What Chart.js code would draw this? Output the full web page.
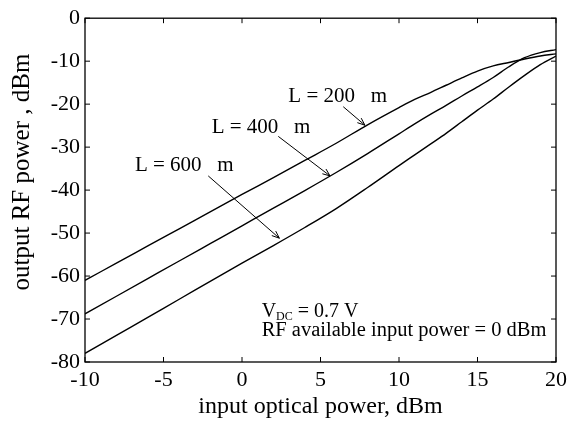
<!DOCTYPE html>
<html>
<head>
<meta charset="utf-8">
<script src="https://cdn.jsdelivr.net/npm/chart.js@4/dist/chart.umd.min.js"></script>
<style>
  html, body { margin: 0; padding: 0; background: #fff; }
  #wrap { width: 572px; height: 427px; }
</style>
</head>
<body>
<div id="wrap"><canvas id="c" width="572" height="427"></canvas></div>
<script>
// ---- data ----
const xValues = [-10, -8, -6, -4, -2, 0, 2, 4, 6, 8, 10, 11, 12, 13, 14, 15, 16, 17, 18, 19, 20];
const L200 = [-61.0, -57.0, -53.0, -49.0, -45.0, -41.0, -37.1, -33.1, -29.1, -24.8, -20.8, -18.9, -17.3, -15.6, -13.9, -12.3, -11.1, -10.3, -9.5, -8.8, -8.3];
const L400 = [-68.8, -64.7, -60.6, -56.5, -52.4, -48.3, -44.2, -40.1, -35.9, -31.5, -26.9, -24.6, -22.4, -20.3, -18.1, -16.0, -13.8, -11.3, -9.2, -8.0, -7.3];
const L600 = [-78.0, -73.8, -69.6, -65.4, -61.2, -57.0, -52.9, -48.7, -44.3, -39.4, -34.3, -31.8, -29.3, -26.8, -24.1, -21.4, -18.8, -16.0, -13.3, -10.8, -8.8];
const seriesNames = ['L = 200   m', 'L = 400   m', 'L = 600   m'];
const xTicks = [-10, -5, 0, 5, 10, 15, 20];
const yTicks = [-80, -70, -60, -50, -40, -30, -20, -10, 0];
const xTitle = 'input optical power, dBm';
const yTitle = 'output RF power , dBm';
// label anchor (data coords) and arrow start/end (data coords)
const labelPos = [[2.95, -19.5], [-1.93, -26.8], [-6.82, -35.6]];
const arrowFrom = [[6.45, -20.6], [2.31, -27.5], [-2.15, -36.7]];
const arrowTo = [[7.83, -24.9], [5.61, -36.7], [2.38, -51.2]];
const noteV = ['V', 'DC', ' = 0.7 V'];
const notePos = [1.25, -69.6];
const note2 = 'RF available input power = 0 dBm';
const note2Pos = [1.25, -74.0];
const yTitleCenter = -35.8;

const FONT = '"Liberation Serif", "Times New Roman", serif';

function toPts(ys) { return xValues.map((x, i) => ({ x: x, y: ys[i] })); }

const decor = {
  id: 'decor',
  afterDatasetsDraw(chart) {
    const { ctx, chartArea: a, scales } = chart;
    const xs = scales.x, ys = scales.y;
    ctx.save();
    ctx.strokeStyle = '#000';
    ctx.lineWidth = 1.3;
    ctx.strokeRect(a.left, a.top, a.right - a.left, a.bottom - a.top);
    const tl = 5;
    ctx.lineWidth = 1;
    ctx.beginPath();
    xTicks.forEach(v => {
      const px = xs.getPixelForValue(v);
      ctx.moveTo(px, a.bottom); ctx.lineTo(px, a.bottom - tl);
      ctx.moveTo(px, a.top); ctx.lineTo(px, a.top + tl);
    });
    yTicks.forEach(v => {
      const py = ys.getPixelForValue(v);
      ctx.moveTo(a.left, py); ctx.lineTo(a.left + tl, py);
      ctx.moveTo(a.right, py); ctx.lineTo(a.right - tl, py);
    });
    ctx.stroke();

    // arrows
    ctx.lineWidth = 1;
    arrowFrom.forEach((f, i) => {
      const x1 = xs.getPixelForValue(f[0]), y1 = ys.getPixelForValue(f[1]);
      const x2 = xs.getPixelForValue(arrowTo[i][0]), y2 = ys.getPixelForValue(arrowTo[i][1]);
      ctx.beginPath();
      ctx.moveTo(x1, y1); ctx.lineTo(x2, y2);
      const ang = Math.atan2(y2 - y1, x2 - x1);
      const h = 8, s = 0.38;
      ctx.moveTo(x2, y2); ctx.lineTo(x2 - h * Math.cos(ang - s), y2 - h * Math.sin(ang - s));
      ctx.moveTo(x2, y2); ctx.lineTo(x2 - h * Math.cos(ang + s), y2 - h * Math.sin(ang + s));
      ctx.stroke();
    });

    // labels
    ctx.fillStyle = '#000';
    ctx.textBaseline = 'alphabetic';
    ctx.textAlign = 'left';
    ctx.font = '21px ' + FONT;
    seriesNames.forEach((t, i) => {
      ctx.fillText(t, xs.getPixelForValue(labelPos[i][0]), ys.getPixelForValue(labelPos[i][1]));
    });

    // notes
    let nx = xs.getPixelForValue(notePos[0]);
    const ny = ys.getPixelForValue(notePos[1]);
    ctx.font = '20px ' + FONT;
    ctx.fillText(noteV[0], nx, ny);
    nx += ctx.measureText(noteV[0]).width;
    ctx.font = '12px ' + FONT;
    ctx.fillText(noteV[1], nx, ny + 3);
    nx += ctx.measureText(noteV[1]).width;
    ctx.font = '20px ' + FONT;
    ctx.fillText(noteV[2], nx, ny);
    ctx.font = '20.5px ' + FONT;
    ctx.fillText(note2, xs.getPixelForValue(note2Pos[0]), ys.getPixelForValue(note2Pos[1]));

    // y axis title
    ctx.save();
    ctx.translate(22, ys.getPixelForValue(yTitleCenter));
    ctx.rotate(-Math.PI / 2);
    ctx.textAlign = 'center';
    ctx.textBaseline = 'middle';
    ctx.font = '25px ' + FONT;
    ctx.fillText(yTitle, 0, 0);
    ctx.restore();
    ctx.restore();
  }
};

new Chart(document.getElementById('c'), {
  type: 'line',
  data: {
    datasets: [
      { label: seriesNames[0], data: toPts(L200) },
      { label: seriesNames[1], data: toPts(L400) },
      { label: seriesNames[2], data: toPts(L600) }
    ].map(d => Object.assign(d, { borderColor: '#000', borderWidth: 1.4, pointRadius: 0, cubicInterpolationMode: 'monotone', fill: false }))
  },
  options: {
    responsive: false,
    animation: false,
    devicePixelRatio: 1,
    layout: { padding: { top: 13, right: 16, left: 0, bottom: 0 } },
    plugins: { legend: { display: false }, tooltip: { enabled: false } },
    scales: {
      x: {
        type: 'linear', min: -10, max: 20,
        afterBuildTicks: s => { s.ticks = xTicks.map(v => ({ value: v })); },
        afterFit: s => { s.height = 65; },
        grid: { display: false, drawTicks: false },
        border: { display: false },
        ticks: { color: '#000', font: { family: FONT, size: 22 }, padding: 5, maxRotation: 0 },
        title: { display: true, text: xTitle, color: '#000', font: { family: FONT, size: 24 }, padding: { top: 0, bottom: 6 } }
      },
      y: {
        type: 'linear', min: -80, max: 0,
        afterBuildTicks: s => { s.ticks = yTicks.map(v => ({ value: v })); },
        afterFit: s => { s.width = 85; },
        grid: { display: false, drawTicks: false },
        border: { display: false },
        ticks: { color: '#000', font: { family: FONT, size: 22 }, padding: 5 },
        title: { display: false, text: yTitle }
      }
    }
  },
  plugins: [decor]
});
</script>
</body>
</html>
